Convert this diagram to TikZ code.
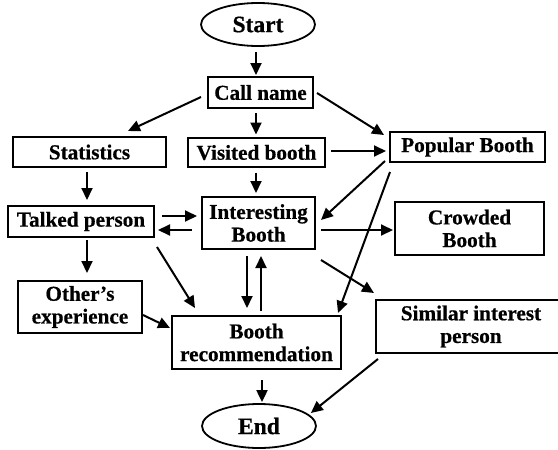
\documentclass[tikz,border=0pt]{standalone}
\usepackage{fontspec}
\setmainfont{Liberation Serif}[FakeBold=0.6]
\usetikzlibrary{arrows.meta,shapes.geometric}
\begin{document}
\begin{tikzpicture}[x=1pt,y=-1pt,
  font=\fontsize{21.2}{22.7}\selectfont\bfseries,
  box/.style={draw,line width=2pt,rectangle,align=center,inner sep=0pt},
  oval/.style={draw,ellipse,line width=1.8pt,inner sep=0pt,font=\fontsize{23.5}{26}\selectfont\bfseries},
  arr/.style={line width=2pt,-{Triangle[length=12pt,width=11pt]}}]
\useasboundingbox (0,0) rectangle (558,450);

\node[oval,minimum width=114pt,minimum height=43pt] (start) at (258,24.5) {Start};
\node[box,minimum width=105pt,minimum height=31pt] (call) at (260.5,92.5) {Call name};
\node[box,minimum width=153pt,minimum height=30pt] (stats) at (89.5,152) {Statistics};
\node[box,minimum width=137pt,minimum height=29pt] (visit) at (256.5,152.5) {Visited booth};
\node[box,minimum width=155pt,minimum height=30pt] (popular) at (467.5,147) {Popular Booth};
\node[box,minimum width=146pt,minimum height=31pt] (talked) at (81,221.5) {Talked person};
\node[box,minimum width=113pt,minimum height=52pt] (interest) at (258.5,223) {Interesting\\Booth};
\node[box,minimum width=149pt,minimum height=53pt] (crowded) at (469.5,228.5) {Crowded\\Booth};
\node[box,minimum width=124pt,minimum height=52pt] (others) at (80,307) {Other's\\experience};
\node[box,minimum width=169pt,minimum height=53pt] (rec) at (256.5,342.5) {Booth\\recommendation};
\node[box,minimum width=190pt,minimum height=53pt] (similar) at (471,326.5) {Similar interest\\person};
\node[oval,minimum width=114pt,minimum height=44pt] (end) at (259,426) {End};

\draw[arr] ([shift={(-2,5)}]start.south) -- ([shift={(-4.5,-1)}]call.north);
\draw[arr] ([shift={(-6,4.5)}]call.west) -- ([shift={(38.5,-5)}]stats.north);
\draw[arr] ([shift={(-4.5,4)}]call.south) -- ([shift={(-0.5,-2.5)}]visit.north);
\draw[arr] ([shift={(3,0.5)}]call.east) -- ([shift={(-5,4)}]popular.north west);
\draw[arr] ([shift={(5,-1.5)}]visit.east) -- ([shift={(-3,4)}]popular.west);
\draw[arr] ([shift={(-2.5,4)}]stats.south) -- ([shift={(6,-5)}]talked.north);
\draw[arr] ([shift={(-0.5,4.5)}]visit.south) -- ([shift={(-2.5,-3)}]interest.north);
\draw[arr] ([shift={(7,-5.5)}]talked.east) -- ([shift={(-4,-7)}]interest.west);
\draw[arr] ([shift={(-9,7)}]interest.west) -- ([shift={(3,8.5)}]talked.east);
\draw[arr] ([shift={(-4,-2)}]popular.south west) -- ([shift={(5,-3)}]interest.east);
\draw[arr] ([shift={(1,9)}]popular.south west) -- ([shift={(-4,-2)}]rec.north east);
\draw[arr] ([shift={(5,7)}]interest.east) -- ([shift={(-1,1.5)}]crowded.west);
\draw[arr] ([shift={(5,10)}]interest.south east) -- ([shift={(-1,-6)}]similar.north west);
\draw[arr] ([shift={(6,2)}]talked.south) -- ([shift={(7,-7)}]others.north);
\draw[arr] ([shift={(2,9)}]talked.south east) -- ([shift={(24,-7)}]rec.north west);
\draw[arr] ([shift={(0,8)}]others.east) -- ([shift={(-1,-14.5)}]rec.west);
\draw[arr] ([shift={(-11.5,6)}]interest.south) -- ([shift={(-9.5,-7)}]rec.north);
\draw[arr] ([shift={(4.5,-4)}]rec.north) -- ([shift={(2.5,6)}]interest.south);
\draw[arr] ([shift={(5.5,10)}]rec.south) -- ([shift={(3,-1)}]end.north);
\draw[arr] ([shift={(3,5)}]similar.south west) -- ([shift={(-6,-13)}]end.east);
\end{tikzpicture}
\end{document}
